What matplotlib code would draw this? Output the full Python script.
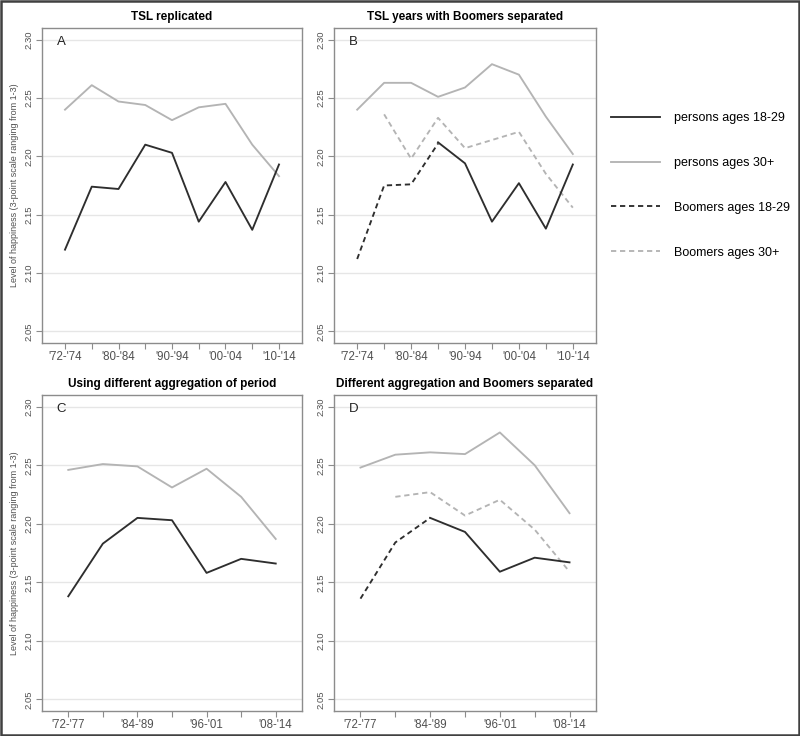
import matplotlib
matplotlib.use("Agg")
import matplotlib.pyplot as plt
import numpy as np
from matplotlib.patches import Rectangle

plt.rcParams['font.family'] = ['Liberation Sans', 'DejaVu Sans']

# x axis labels (unlabelled ticks in between)
tsl_labels = ["'72-'74", "", "'80-'84", "", "'90-'94", "", "'00-'04", "", "'10-'14"]
agg_labels = ["'72-'77", "", "'84-'89", "", "'96-'01", "", "'08-'14"]

nan = np.nan
# panel A - TSL replicated
a_young = [2.120, 2.174, 2.172, 2.210, 2.203, 2.144, 2.178, 2.137, 2.193]
a_old = [2.240, 2.261, 2.247, 2.244, 2.231, 2.242, 2.245, 2.210, 2.183]
# panel B - TSL years, Boomers separated
b_young = [nan, nan, nan, 2.212, 2.194, 2.144, 2.177, 2.138, 2.193]
b_old = [2.240, 2.263, 2.263, 2.251, 2.259, 2.279, 2.270, 2.234, 2.202]
b_boom_young = [2.112, 2.175, 2.176, 2.211, nan, nan, nan, nan, nan]
b_boom_old = [nan, 2.236, 2.198, 2.233, 2.207, 2.214, 2.221, 2.185, 2.156]
# panel C - different aggregation
c_young = [2.138, 2.183, 2.205, 2.203, 2.158, 2.170, 2.166]
c_old = [2.246, 2.251, 2.249, 2.231, 2.247, 2.223, 2.187]
# panel D - different aggregation, Boomers separated
d_young = [nan, nan, 2.205, 2.193, 2.159, 2.171, 2.167]
d_old = [2.248, 2.259, 2.261, 2.2595, 2.278, 2.250, 2.209]
d_boom_young = [2.136, 2.184, 2.205, nan, nan, nan, nan]
d_boom_old = [nan, 2.223, 2.227, 2.207, 2.2205, 2.195, 2.159]

yticks = [2.05, 2.10, 2.15, 2.20, 2.25, 2.30]

DARK = '#2e2e2e'
LIGHT = '#b4b4b4'
DASH = (0, (2.8, 2.0))
LW = 1.35


def setup_axes(ax, labels, title, letter, ylabel=False):
    n = len(labels)
    pad = 0.86 if n == 9 else 0.76
    ax.set_xlim(-pad, n - 1 + pad)
    ax.set_ylim(2.04, 2.31)
    ax.set_yticks(yticks)
    ax.set_yticklabels(['%.2f' % v for v in yticks], rotation=90, va='center')
    ax.set_xticks(range(n))
    ax.set_xticklabels(labels)
    for v in yticks:
        ax.axhline(v, color='#e6e6e6', lw=1.0, zorder=0)
    for s in ax.spines.values():
        s.set_color('#8c8c8c')
        s.set_linewidth(1.0)
    ax.tick_params(direction='out', length=4, width=0.8, color='#8c8c8c',
                   labelcolor='#505050', pad=2)
    ax.tick_params(axis='x', labelsize=8.3)
    ax.tick_params(axis='y', labelsize=6.8)
    ax.set_title(title, fontsize=8.5, fontweight='bold', pad=5.5)
    ax.text(0.075, 0.955, letter, transform=ax.transAxes, fontsize=9.5,
            ha='center', va='center', color='#222222')
    if ylabel:
        ax.set_ylabel('Level of happiness (3-point scale ranging from 1-3)',
                      fontsize=6.5, color='#505050', labelpad=4)


fig = plt.figure(figsize=(8, 7.36), dpi=100)
W, H = 800.0, 736.0
axA = fig.add_axes([42 / W, 1 - 343 / H, 260 / W, 315 / H])
axB = fig.add_axes([334 / W, 1 - 343 / H, 262 / W, 315 / H])
axC = fig.add_axes([42 / W, 1 - 711 / H, 260 / W, 316 / H])
axD = fig.add_axes([334 / W, 1 - 711 / H, 262 / W, 316 / H])

xa = np.arange(len(tsl_labels))
xc = np.arange(len(agg_labels))

axA.plot(xa, a_old, color=LIGHT, lw=LW)
axA.plot(xa, a_young, color=DARK, lw=LW)
setup_axes(axA, tsl_labels, 'TSL replicated', 'A', ylabel=True)

axB.plot(xa, b_old, color=LIGHT, lw=LW)
axB.plot(xa, b_boom_old, color=LIGHT, lw=LW, ls=DASH)
axB.plot(xa, b_boom_young, color=DARK, lw=LW, ls=DASH)
axB.plot(xa, b_young, color=DARK, lw=LW)
setup_axes(axB, tsl_labels, 'TSL years with Boomers separated', 'B')

axC.plot(xc, c_old, color=LIGHT, lw=LW)
axC.plot(xc, c_young, color=DARK, lw=LW)
setup_axes(axC, agg_labels, 'Using different aggregation of period', 'C', ylabel=True)

l_old, = axD.plot(xc, d_old, color=LIGHT, lw=LW)
l_bold, = axD.plot(xc, d_boom_old, color=LIGHT, lw=LW, ls=DASH)
l_byoung, = axD.plot(xc, d_boom_young, color=DARK, lw=LW, ls=DASH)
l_young, = axD.plot(xc, d_young, color=DARK, lw=LW)
setup_axes(axD, agg_labels, 'Different aggregation and Boomers separated', 'D')

fig.legend([l_young, l_old, l_byoung, l_bold],
           ['persons ages 18-29', 'persons ages 30+', 'Boomers ages 18-29', 'Boomers ages 30+'],
           loc='upper left', bbox_to_anchor=(611 / W, 1 - 112 / H), frameon=False,
           fontsize=9, handlelength=3.9, handletextpad=1.1, labelspacing=2.63,
           borderpad=0, borderaxespad=0)

fig.add_artist(Rectangle((0.001, 0.001), 0.998, 0.998, transform=fig.transFigure,
                         fill=False, ec='#404040', lw=1.8))

fig.savefig('out.png', dpi=100)
